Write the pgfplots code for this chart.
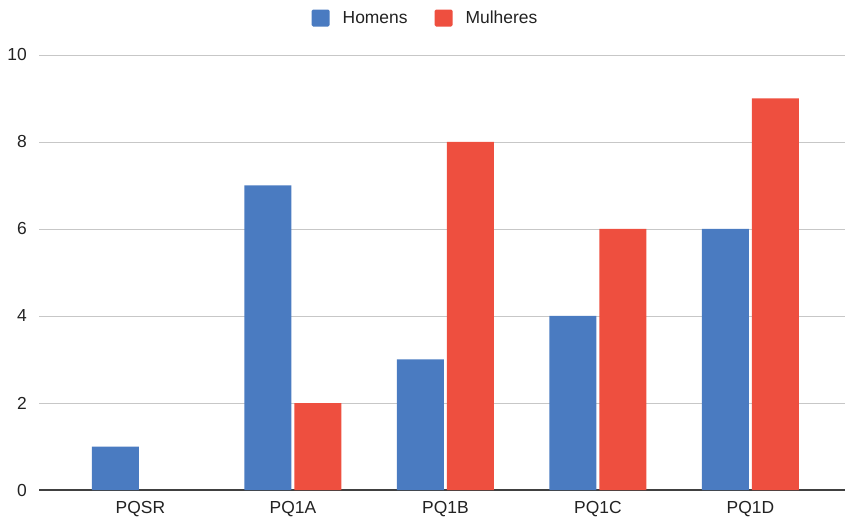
\documentclass[border=0pt]{standalone}
\usepackage{pgfplots}
\pgfplotsset{compat=1.18}
\usepackage{fontspec}
\setmainfont{Liberation Sans}
\definecolor{cblue}{HTML}{4A7BC1}
\definecolor{cred}{HTML}{EE4F3F}
\definecolor{ctext}{HTML}{222222}
\begin{document}
\begin{tikzpicture}
\begin{axis}[
  at={(0,0)}, anchor=south west,
  scale only axis, width=806bp, height=435bp,
  xmin=-0.665, xmax=4.62, ymin=0, ymax=10,
  ytick={0,2,4,6,8,10},
  xtick={0,1,2,3,4},
  xticklabels={PQSR,PQ1A,PQ1B,PQ1C,PQ1D},
  /pgf/number format/assume math mode=true,
  ybar=3bp, bar width=47bp,
  ymajorgrids, grid style={color=black!22, line width=0.9bp},
  axis x line*=bottom, axis y line*=left,
  y axis line style={draw=none},
  x axis line style={color=black!75, line width=1.2bp},
  major tick length=0pt,
  tick label style={font=\fontsize{17.5}{20}\selectfont, text=ctext},
  yticklabel style={inner sep=0pt, xshift=-12bp},
  xticklabel style={inner sep=0pt, anchor=north, yshift=-11bp},
  legend style={draw=none, at={(0.4795,1.085)}, anchor=center,
    font=\fontsize{17.5}{20}\selectfont, text=ctext, legend columns=-1,
    /tikz/every even column/.append style={column sep=25bp}},
  legend image code/.code={\draw[#1,draw=none,rounded corners=1.5bp] (0bp,-8.5bp) rectangle (18bp,8.5bp); \path (29bp,0bp);},
]
\addplot[fill=cblue, draw=none] coordinates {(0,1) (1,7) (2,3) (3,4) (4,6)};
\addplot[fill=cred, draw=none] coordinates {(1,2) (2,8) (3,6) (4,9)};
\legend{Homens,Mulheres}
\end{axis}
\pgfresetboundingbox
\path (-39bp,-27bp) rectangle (806bp,490bp);
\end{tikzpicture}
\end{document}
